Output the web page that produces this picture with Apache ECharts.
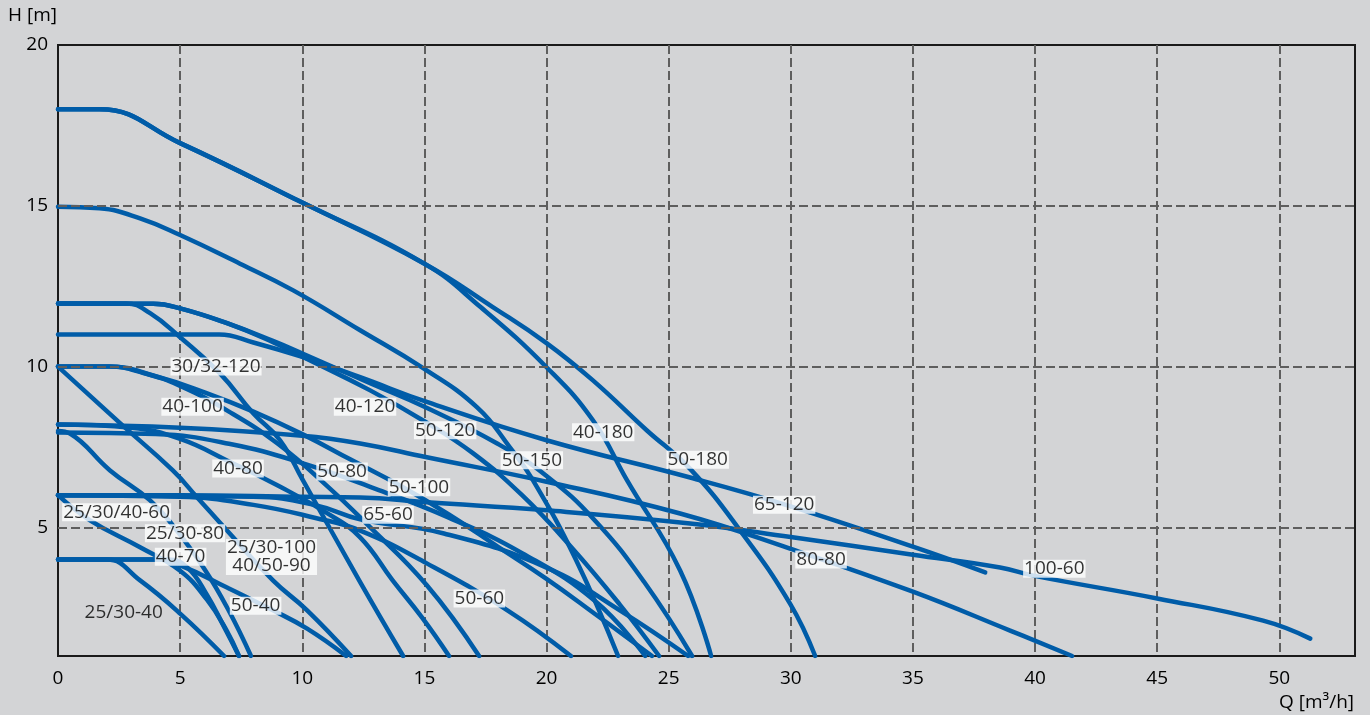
<!DOCTYPE html>
<html><head><meta charset="utf-8">
<script src="https://cdn.jsdelivr.net/npm/echarts@6/dist/echarts.min.js"></script>
<style>html,body{margin:0;padding:0;background:#d3d4d6}#c{width:1370px;height:715px}</style>
</head><body><div id="c"></div>
<script>
// ---- data (Q [m3/h], H [m]) ----
const c40_180 = [[0,18],[1.7,18],[5,16.95],[10,15.1],[15,13.2],[17.3,11.85],[20,9.98],[21.9,8.33],[23.3,6.46],[25.47,3.66],[26.74,1]];
const c50_180 = [[0,18],[1.7,18],[5,16.95],[10,15.1],[15,13.2],[17.8,11.85],[20,10.73],[21.9,9.57],[24.1,8.02],[25.88,6.82],[27.93,4.9],[29.97,2.63],[31,1]];
const c50_150 = [[0,14.97],[1.7,14.92],[3.36,14.61],[5,14.09],[7.45,13.2],[9.63,12.37],[12.37,11.13],[14.95,9.95],[17.16,8.73],[18.5,7.49],[19.45,6.46],[21.2,4.0],[22.93,1]];
const c30_120 = [[0,11.96],[2.8,11.96],[3.77,11.66],[5,10.91],[6.63,9.79],[7.99,8.55],[9.09,7.71],[10.03,6.46],[12.37,3.3],[14.13,1]];
const c40_120 = [[0,11.96],[3.9,11.95],[5,11.81],[6.92,11.35],[8.8,10.76],[10.03,10.3],[12.78,9.26],[15,8.3],[17,7.3],[19,6.0],[21,4.4],[23,2.6],[24.61,1]];
const c50_120 = [[0,11.96],[3.9,11.95],[5,11.81],[6.92,11.35],[8.8,10.8],[10.03,10.4],[12.78,9.48],[15,8.75],[18,7.6],[20,6.6],[22,5.2],[24,3.3],[25.96,1]];
const c65_120 = [[0,11],[6.6,11],[8,10.75],[10,10.3],[12.37,9.67],[15.1,8.9],[20,7.71],[25.88,6.55],[29.8,5.7],[35,4.4],[37.96,3.6]];
const c40_100 = [[0,10],[2.1,10],[3.5,9.8],[5,9.4],[7,8.6],[9,7.6],[11,6.3],[12.65,5.1],[15.1,3.2],[17.24,1]];
const c50_100 = [[0,10],[2.1,10],[4,9.7],[6,9.2],[8,8.6],[10,7.9],[12,7.1],[14,6.3],[16,5.4],[18,4.4],[20,3.4],[22,2.3],[24.32,1]];
const c25_100 = [[0,10],[2.54,8.24],[4.7,6.77],[5.7,5.93],[6.92,4.9],[8.8,3.35],[10.2,2.42],[12,1]];
const c40_80 = [[0,8.2],[3,8.1],[5,7.75],[7,7.05],[9,6.3],[11,5.45],[12.37,4.69],[13.7,3.35],[14.9,2.2],[16.01,1]];
const c50_80 = [[0,7.95],[4,7.9],[7,7.6],[10,7.0],[13,6.2],[16,5.3],[19,4.2],[22,2.7],[24.04,1]];
const c80_80 = [[0,8.2],[5,8.1],[10,7.85],[12.37,7.61],[15.1,7.18],[20,6.42],[25.47,5.43],[29.97,4.34],[35,3.0],[38.98,1.79],[41.52,1]];
const c25_80 = [[0,8],[0.49,7.92],[2.13,6.77],[3.77,5.84],[4.7,5.06],[6,3.7],[7,2.4],[7.9,1]];
const c25_60 = [[0,6],[1.31,5.22],[3.36,4.38],[5,3.65],[6.1,2.75],[6.9,1.8],[7.41,1]];
const c25_40 = [[0,4],[2,4],[3.36,3.35],[5,2.32],[6.8,1]];
const c40_70 = [[0,4],[4.5,4],[5.3,3.75],[6.1,2.9],[6.8,1.9],[7.41,1]];
const c50_40 = [[0,4],[4,4],[5,3.82],[6.92,3.13],[8.8,2.42],[10.2,1.85],[11.8,1]];
const c50_60 = [[0,6],[5,5.95],[8,5.7],[10.5,5.3],[12.37,4.9],[15.1,3.88],[18.4,2.42],[21,1]];
const c65_60 = [[0,6],[8,5.95],[10.5,5.7],[12.37,5.25],[15.8,4.81],[20,3.75],[23,2.42],[25.8,1]];
const c100_60 = [[0,6],[5,6],[10,5.95],[12.37,5.93],[15.1,5.78],[20,5.53],[25.88,5.12],[30,4.7],[35,4.15],[38.57,3.75],[39.93,3.5],[45,2.79],[49.34,2.1],[51.27,1.54]];

const curves = [c40_180,c50_180,c50_150,c30_120,c40_120,c50_120,c65_120,c40_100,c50_100,c25_100,
                c40_80,c50_80,c80_80,c25_80,c25_60,c25_40,c40_70,c50_40,c50_60,c65_60,c100_60];

// curve labels: [Q, H, text]
const curveLabels = [
  [6.47,10.0,'30/32-120'],[5.51,8.75,'40-100'],[12.57,8.75,'40-120'],[15.85,8.02,'50-120'],
  [22.32,7.96,'40-180'],[19.4,7.09,'50-150'],[26.19,7.1,'50-180'],[29.73,5.70,'65-120'],
  [7.37,6.83,'40-80'],[11.63,6.74,'50-80'],[14.78,6.25,'50-100'],[13.51,5.39,'65-60'],
  [2.40,5.47,'25/30/40-60'],[5.2,4.82,'25/30-80'],[5.02,4.09,'40-70'],[8.74,4.08,'25/30-100\n40/50-90'],
  [8.09,2.56,'50-40'],[17.25,2.79,'50-60'],[31.24,4.0,'80-80'],[40.79,3.71,'100-60']
];
const plainLabels = [[2.69,2.34,'25/30-40']];

const xTicks = {min:0, max:53.1, step:5};
const yTicks = {min:1, max:20, labelStep:5};
const yGrid = [5,10,15];

// ---- chart ----
const FONT = '"Open Sans","Noto Sans",sans-serif';
const BLUE = '#005ca8';
const GRID = '#5e5e5e';
const INK = '#000';
const chart = echarts.init(document.getElementById('c'), null, {renderer:'canvas'});
const series = curves.map(d => ({
  type:'line', data:d, showSymbol:false, smooth:0.45, z:3,
  lineStyle:{color:BLUE, width:4.5, cap:'round', join:'round'}, silent:true
}));
series.push({
  type:'line', data:[], z:1, silent:true,
  markLine:{silent:true, symbol:'none', label:{show:false}, animation:false,
    lineStyle:{type:[9,4], color:GRID, width:2},
    data:yGrid.map(v=>({yAxis:v}))}
});
const lblStyle = {show:true, position:'inside', formatter:p=>p.name, fontFamily:FONT, fontSize:19,
  color:INK, backgroundColor:'#fff', padding:[0,1,0,1], lineHeight:18};
series.push({
  type:'scatter', z:10, symbolSize:1, itemStyle:{color:'rgba(0,0,0,0)'}, silent:true,
  label:lblStyle,
  data:curveLabels.map(l=>({value:[l[0],l[1]], name:l[2]}))
});
series.push({
  type:'scatter', z:10, symbolSize:1, itemStyle:{color:'rgba(0,0,0,0)'}, silent:true,
  label:Object.assign({}, lblStyle, {backgroundColor:'transparent'}),
  data:plainLabels.map(l=>({value:[l[0],l[1]], name:l[2]}))
});

chart.setOption({
  animation:false,
  backgroundColor:'#d3d4d6',
  grid:{left:58, right:15, top:45, bottom:59, show:true, borderColor:'#1a1a1a', borderWidth:2, backgroundColor:'transparent'},
  xAxis:{type:'value', min:xTicks.min, max:xTicks.max, interval:xTicks.step,
    axisLine:{show:true, lineStyle:{color:'#1a1a1a', width:2}}, axisTick:{show:false},
    axisLabel:{showMaxLabel:false, color:INK, fontFamily:FONT, fontSize:19, margin:13},
    splitLine:{show:true, showMinLine:false, showMaxLine:false, lineStyle:{type:[9,4], color:GRID, width:2}}},
  yAxis:{type:'value', min:yTicks.min, max:yTicks.max, interval:1,
    axisLine:{show:true, lineStyle:{color:'#1a1a1a', width:2}}, axisTick:{show:false},
    axisLabel:{color:INK, fontFamily:FONT, fontSize:19, margin:10,
      formatter:v=> (v % yTicks.labelStep === 0 ? String(v) : '')},
    splitLine:{show:false}},
  graphic:[
    {type:'text', left:8, top:6, style:{text:'H [m]', font:'19px '+FONT, fill:INK}},
    {type:'text', right:16, top:693, style:{text:'Q [m³/h]', font:'19px '+FONT, fill:INK}}
  ],
  series:series
});
</script></body></html>
